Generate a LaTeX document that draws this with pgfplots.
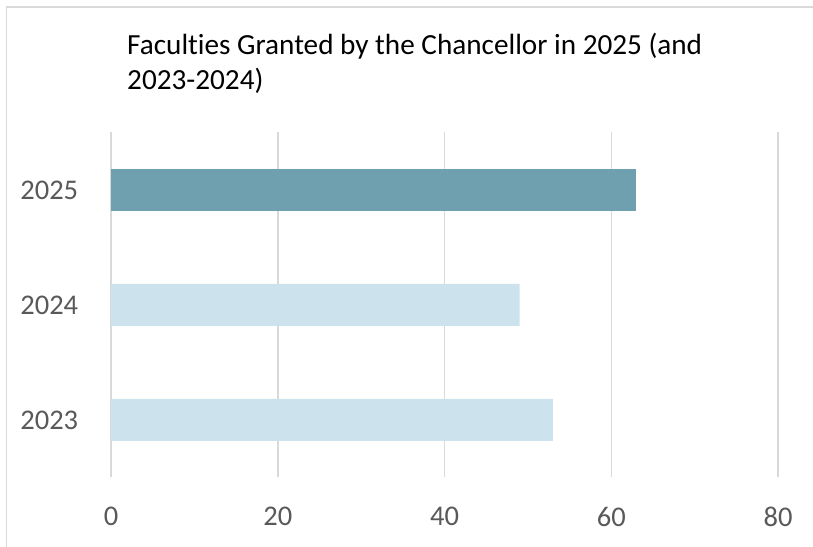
\documentclass[border=0pt]{standalone}
\usepackage{pgfplots}
\pgfplotsset{compat=1.18}
\usepackage{fontspec}
\setmainfont{Carlito}[Ligatures=NoCommon]
\definecolor{darkbar}{HTML}{6FA0AF}
\definecolor{lightbar}{HTML}{CCE3EE}
\definecolor{gridc}{HTML}{D9D9D9}
\definecolor{tickc}{HTML}{595959}
\begin{document}
\begin{tikzpicture}[x=1bp,y=1bp]
\useasboundingbox (-111,-69.5) rectangle (702,477.5);
\draw[gridc, line width=1.5bp] (-104.5,-69.5) -- (-104.5,470.5) -- (702,470.5);
\node[anchor=base west, font=\fontsize{29.2bp}{35bp}\selectfont, text=black, inner sep=0pt] at (16,422.5)
  {Faculties Granted by the Chancellor in 2025 (and};
\node[anchor=base west, font=\fontsize{29.2bp}{35bp}\selectfont, text=black, inner sep=0pt] at (16,387.5)
  {2023-2024)};
\begin{axis}[
  at={(0,0)}, anchor=south west,
  scale only axis, width=667bp, height=345bp,
  xmin=0, xmax=80, ymin=-0.5, ymax=2.5,
  xtick={0,20,40,60,80},
  ytick={0,1,2}, yticklabels={2023,2024,2025},
  xmajorgrids, grid style={gridc, line width=1.5bp},
  axis line style={draw=none}, tick style={draw=none},
  ticklabel style={font=\fontsize{28.5bp}{34bp}\selectfont, text=tickc},
  xticklabel style={anchor=center, yshift=-39bp},
  yticklabel style={anchor=center, xshift=-57.5bp},
  /pgf/number format/assume math mode=true,
  xbar, bar width=42bp, bar shift=0pt,
]
\addplot[draw=none, fill=lightbar] coordinates {(53,0) (49,1)};
\addplot[draw=none, fill=darkbar] coordinates {(63,2)};
\end{axis}
\end{tikzpicture}
\end{document}
